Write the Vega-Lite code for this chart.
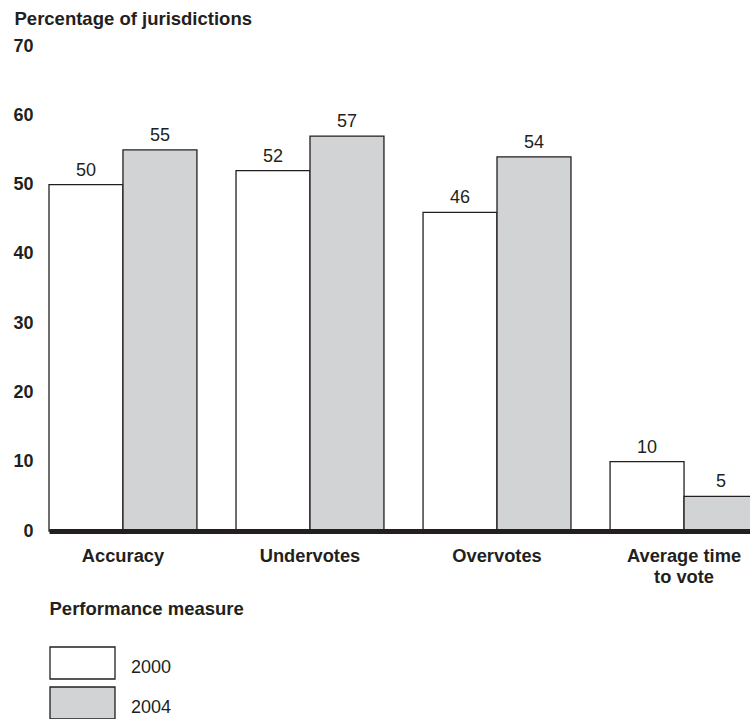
{
  "$schema": "https://vega.github.io/schema/vega-lite/v6.json",
  "width": 701,
  "height": 485,
  "autosize": {"type": "none"},
  "padding": {"left": 49, "top": 46, "right": 0, "bottom": 188},
  "background": "white",
  "config": {"view": {"stroke": null}, "font": "Liberation Sans"},
  "data": {
    "values": [
      {"measure": "Accuracy", "year": "2000", "value": 50},
      {"measure": "Accuracy", "year": "2004", "value": 55},
      {"measure": "Undervotes", "year": "2000", "value": 52},
      {"measure": "Undervotes", "year": "2004", "value": 57},
      {"measure": "Overvotes", "year": "2000", "value": 46},
      {"measure": "Overvotes", "year": "2004", "value": 54},
      {"measure": "Average time to vote", "year": "2000", "value": 10},
      {"measure": "Average time to vote", "year": "2004", "value": 5}
    ]
  },
  "encoding": {
    "x": {
      "field": "measure",
      "type": "nominal",
      "sort": ["Accuracy", "Undervotes", "Overvotes", "Average time to vote"],
      "scale": {"paddingInner": 0.209, "paddingOuter": 0, "range": [0, 709]},
      "axis": {
        "title": "Performance measure",
        "titleAnchor": "start",
        "titleAlign": "left",
        "titleBaseline": "alphabetic",
        "titleX": 0,
        "titleY": 83,
        "titleFontSize": 18.5,
        "titleFontWeight": "bold",
        "titleColor": "#231f20",
        "labelAngle": 0,
        "labelFontSize": 18.3,
        "labelFontWeight": "bold",
        "labelColor": "#231f20",
        "labelPadding": 16,
        "labelLineHeight": 21,
        "labelExpr": "datum.value == 'Average time to vote' ? ['Average time', 'to vote'] : datum.value",
        "ticks": false,
        "grid": false,
        "domainWidth": 5,
        "domainColor": "#231f20",
        "zindex": 1
      }
    },
    "xOffset": {"field": "year", "type": "nominal", "scale": {"paddingInner": 0, "paddingOuter": 0}},
    "y": {
      "field": "value",
      "type": "quantitative",
      "scale": {"domain": [0, 70], "nice": false},
      "axis": {
        "title": "Percentage of jurisdictions",
        "titleAngle": 0,
        "titleAlign": "left",
        "titleBaseline": "alphabetic",
        "titleX": -35,
        "titleY": -22,
        "titleFontSize": 18.5,
        "titleFontWeight": "bold",
        "titleColor": "#231f20",
        "values": [0, 10, 20, 30, 40, 50, 60, 70],
        "domain": false,
        "ticks": false,
        "grid": false,
        "labelFontSize": 18,
        "labelFontWeight": "bold",
        "labelColor": "#231f20",
        "labelPadding": 16
      }
    }
  },
  "layer": [
    {
      "mark": {"type": "bar", "stroke": "#231f20", "strokeWidth": 1.3},
      "encoding": {
        "color": {
          "field": "year",
          "type": "nominal",
          "scale": {"domain": ["2000", "2004"], "range": ["#ffffff", "#d1d3d4"]},
          "legend": {
            "orient": "none",
            "legendX": 0,
            "legendY": 600,
            "title": null,
            "direction": "vertical",
            "padding": 0,
            "symbolType": "M-1,-0.492H1V0.492H-1Z",
            "symbolSize": 4225,
            "symbolStrokeColor": "#231f20",
            "symbolStrokeWidth": 1.3,
            "symbolOpacity": 1,
            "labelFontSize": 18,
            "labelColor": "#231f20",
            "labelOffset": 15,
            "clipHeight": 34,
            "rowPadding": 6,
            "encode": {"labels": {"update": {"dy": {"value": 5}}}}
          }
        }
      }
    },
    {
      "mark": {"type": "text", "dy": -9, "fontSize": 18, "baseline": "alphabetic", "color": "#231f20"},
      "encoding": {"text": {"field": "value", "type": "quantitative"}}
    }
  ]
}
